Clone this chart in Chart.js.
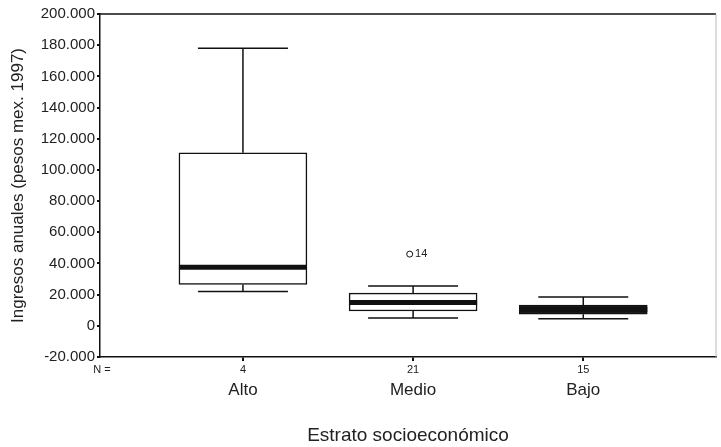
<!DOCTYPE html>
<html>
<head>
<meta charset="utf-8">
<script src="https://cdn.jsdelivr.net/npm/chart.js@4.4.1/dist/chart.umd.min.js"></script>
<style>
  html, body { margin: 0; padding: 0; background: #fff; }
  #wrap { width: 721px; height: 447px; }
</style>
</head>
<body>
<div id="wrap"><canvas id="grafico"></canvas></div>
<script>
// Datos
const categories = ['Alto', 'Medio', 'Bajo'];
const nValues = [4, 21, 15];
const whiskerLow = [22000, 5000, 4500];
const q1 = [26500, 9500, 7500];
const medians = [37500, 15000, 10500];
const q3 = [111000, 21000, 13300];
const whiskerHigh = [178000, 25500, 18500];
const outlierCategory = [1];
const outlierValues = [46000];
const outlierLabels = ['14'];
const yTicks = [-20000, 0, 20000, 40000, 60000, 80000, 100000, 120000, 140000, 160000, 180000, 200000];

const FONT = '"Liberation Sans", Arial, sans-serif';
const INK = '#111';

function formatMiles(v) {
    if (v === 0) return '0';
    const sign = v < 0 ? '-' : '';
    return sign + Math.abs(v / 1000) + '.000';
}

// Bigotes, medianas, marco y etiquetas N
const boxPlugin = {
    id: 'boxPlugin',
    afterDatasetsDraw(chart) {
        const { ctx, chartArea: a, scales: { x, y } } = chart;
        ctx.save();
        ctx.strokeStyle = INK;

        categories.forEach((c, i) => {
            const cx = x.getPixelForValue(i + 1);
            const half = 45;
            ctx.lineWidth = 1.5;
            ctx.beginPath();
            // bigote superior
            ctx.moveTo(cx, y.getPixelForValue(q3[i]));
            ctx.lineTo(cx, y.getPixelForValue(whiskerHigh[i]));
            ctx.moveTo(cx - half, y.getPixelForValue(whiskerHigh[i]));
            ctx.lineTo(cx + half, y.getPixelForValue(whiskerHigh[i]));
            // bigote inferior
            ctx.moveTo(cx, y.getPixelForValue(q1[i]));
            ctx.lineTo(cx, y.getPixelForValue(whiskerLow[i]));
            ctx.moveTo(cx - half, y.getPixelForValue(whiskerLow[i]));
            ctx.lineTo(cx + half, y.getPixelForValue(whiskerLow[i]));
            ctx.stroke();

            // mediana
            const bw = 64;
            ctx.lineWidth = 5;
            ctx.beginPath();
            ctx.moveTo(cx - bw, y.getPixelForValue(medians[i]));
            ctx.lineTo(cx + bw, y.getPixelForValue(medians[i]));
            ctx.stroke();

            // N por categoría
            ctx.fillStyle = '#222';
            ctx.font = '11px ' + FONT;
            ctx.textAlign = 'center';
            ctx.textBaseline = 'middle';
            ctx.fillText(String(nValues[i]), cx, a.bottom + 13);
        });

        ctx.textAlign = 'center';
        ctx.fillText('N =', a.left + 2, a.bottom + 13);

        // etiquetas de atípicos
        ctx.font = '11px ' + FONT;
        ctx.textAlign = 'left';
        outlierValues.forEach((v, k) => {
            const px = x.getPixelForValue(outlierCategory[k] + 1);
            ctx.fillText(outlierLabels[k], px + 2, y.getPixelForValue(v));
        });

        // marco superior y derecho
        ctx.lineWidth = 1.5;
        ctx.beginPath();
        ctx.moveTo(a.left, a.top);
        ctx.lineTo(a.right, a.top);
        ctx.stroke();
        ctx.lineWidth = 1;
        ctx.strokeStyle = '#bbb';
        ctx.beginPath();
        ctx.moveTo(a.right, a.top);
        ctx.lineTo(a.right, a.bottom);
        ctx.stroke();
        ctx.restore();
    }
};

const ctx = document.getElementById('grafico');
new Chart(ctx, {
    type: 'bar',
    data: {
        datasets: [
            {
                label: 'Caja',
                data: categories.map((c, i) => ({ x: i + 1, y: [q1[i], q3[i]] })),
                backgroundColor: ['#fff', '#fff', '#1a1a1a'],
                borderColor: INK,
                borderWidth: 1.5,
                borderSkipped: false,
                barThickness: 128
            },
            {
                type: 'scatter',
                label: 'Atípicos',
                data: outlierValues.map((v, k) => ({ x: outlierCategory[k] + 1 - 0.02, y: v })),
                pointStyle: 'circle',
                pointRadius: 3,
                backgroundColor: '#fff',
                borderColor: INK,
                borderWidth: 1
            }
        ]
    },
    options: {
        responsive: true,
        maintainAspectRatio: false,
        animation: false,
        layout: { padding: { top: 14, right: 1, left: 8, bottom: 0 } },
        plugins: {
            legend: { display: false },
            tooltip: { enabled: false }
        },
        scales: {
            x: {
                type: 'linear',
                min: 0.16,
                max: 3.78,
                offset: false,
                afterBuildTicks: (scale) => {
                    scale.ticks = categories.map((c, i) => ({ value: i + 1 }));
                },
                afterFit: (scale) => { scale.height = 90; },
                grid: { display: true, drawOnChartArea: false, offset: false, tickLength: 4, color: INK, lineWidth: 2 },
                border: { display: true, color: INK, width: 1.5 },
                ticks: {
                    padding: 19,
                    color: '#222',
                    font: { family: FONT, size: 17 },
                    callback: (v) => categories[v - 1] || ''
                },
                title: {
                    display: true,
                    text: 'Estrato socioeconómico',
                    color: '#222',
                    font: { family: FONT, size: 19 },
                    padding: { top: 24, bottom: 0 }
                }
            },
            y: {
                min: -20000,
                max: 200000,
                afterBuildTicks: (scale) => {
                    scale.ticks = yTicks.map(v => ({ value: v }));
                },
                afterFit: (scale) => { scale.width = 92; },
                grid: { display: true, drawOnChartArea: false, tickLength: 3, color: INK, lineWidth: 2 },
                border: { display: true, color: INK, width: 1.5 },
                ticks: {
                    padding: 2,
                    color: '#222',
                    font: { family: FONT, size: 15 },
                    callback: (v) => formatMiles(v)
                },
                title: {
                    display: true,
                    text: 'Ingresos anuales (pesos mex. 1997)',
                    color: '#222',
                    font: { family: FONT, size: 17 },
                    padding: { top: 0, bottom: 4 }
                }
            }
        }
    },
    plugins: [boxPlugin]
});
</script>
</body>
</html>
